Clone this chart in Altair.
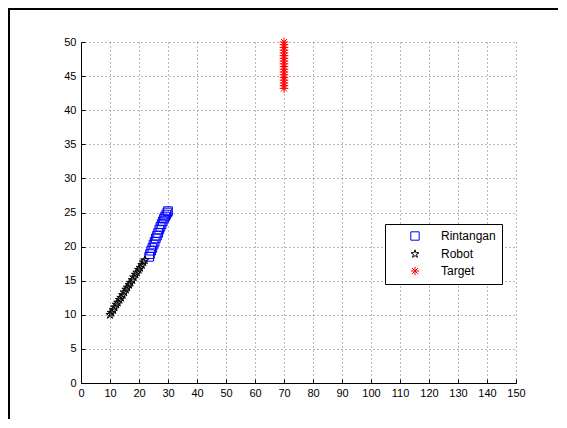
import altair as alt
import pandas as pd

robot_x = [10.0, 10.5, 11.1, 11.6, 12.2, 12.7, 13.3, 13.8, 14.4, 14.9, 15.5, 16.0,
           16.6, 17.1, 17.7, 18.2, 18.8, 19.3, 19.9, 20.4, 21.0, 21.5, 22.0]
robot_y = [10.0, 10.3, 10.7, 11.1, 11.5, 11.8, 12.2, 12.5, 12.9, 13.3, 13.7, 14.0,
           14.4, 14.7, 15.1, 15.5, 15.9, 16.2, 16.6, 16.9, 17.3, 17.7, 18.0]

obst_x = [23.5, 23.8, 24.2, 24.6, 25.0, 25.4, 25.8, 26.2, 26.6, 27.0, 27.4, 27.8,
          28.2, 28.6, 29.0, 29.4, 29.8, 30.0]
obst_y = [18.5, 18.9, 19.4, 19.8, 20.3, 20.7, 21.2, 21.6, 22.0, 22.5, 22.9, 23.3,
          23.7, 24.1, 24.4, 24.7, 25.0, 25.2]

target_x = [70, 70, 70, 70, 70, 70, 70, 70, 70, 70, 70, 70, 70, 70, 70, 70, 70, 70]
target_y = [43.2, 43.6, 44.0, 44.4, 44.8, 45.2, 45.6, 46.0, 46.4, 46.8, 47.2, 47.6,
            48.0, 48.4, 48.8, 49.2, 49.6, 50.0]

series = ["Rintangan", "Robot", "Target"]
x_ticks = [0, 10, 20, 30, 40, 50, 60, 70, 80, 90, 100, 110, 120, 130, 140, 150]
y_ticks = [0, 5, 10, 15, 20, 25, 30, 35, 40, 45, 50]

rows = []
for x, y in zip(obst_x, obst_y):
    rows.append({"x": x, "y": y, "s": "Rintangan"})
for x, y in zip(robot_x, robot_y):
    rows.append({"x": x, "y": y, "s": "Robot"})
for x, y in zip(target_x, target_y):
    rows.append({"x": x, "y": y, "s": "Target"})
df = pd.DataFrame(rows)

W, H = 435, 341
PL, PT, PR, PB = 73, 34, 42, 36

star = ("M0,-1L0.225,-0.309L0.951,-0.309L0.363,0.118L0.588,0.809L0,0.382"
        "L-0.588,0.809L-0.363,0.118L-0.951,-0.309L-0.225,-0.309Z")
aster = "M-1,0L1,0M0,-1L0,1M-0.7,-0.7L0.7,0.7M-0.7,0.7L0.7,-0.7"

xs = alt.Scale(domain=[0, 150], nice=False, zero=False)
ys = alt.Scale(domain=[0, 50], nice=False, zero=False)

points = alt.Chart(df).mark_point(filled=False, strokeWidth=1, size=75, opacity=1).encode(
    x=alt.X("x:Q", scale=xs, title=None,
            axis=alt.Axis(values=x_ticks, grid=True, ticks=False, domain=True,
                          labelPadding=4, labelOverlap=False, labelFlush=False)),
    y=alt.Y("y:Q", scale=ys, title=None,
            axis=alt.Axis(values=y_ticks, grid=True, ticks=False, domain=True,
                          labelPadding=5, labelOverlap=False, labelFlush=False)),
    color=alt.Color("s:N", scale=alt.Scale(domain=series, range=["#0000ff", "#000000", "#ff0000"]),
                    legend=alt.Legend(title=None, orient="none", legendX=304, legendY=182,
                                      fillColor="white", strokeColor="black",
                                      padding=6, rowPadding=4, symbolOffset=18,
                                      labelOffset=20,
                                      symbolSize=70, symbolStrokeWidth=1,
                                      labelFontSize=12, labelFont="Liberation Sans",
                                      labelColor="black", labelLimit=200)),
    shape=alt.Shape("s:N", scale=alt.Scale(domain=series, range=["square", star, aster])),
)

ticks = alt.Chart(df).mark_point(opacity=0).encode(
    x=alt.X("x:Q", scale=xs, title=None,
            axis=alt.Axis(orient="top", offset=-H, values=x_ticks, labels=False, domain=False,
                          grid=False, ticks=True, tickSize=4, tickColor="black")),
    y=alt.Y("y:Q", scale=ys, title=None,
            axis=alt.Axis(orient="right", offset=-W, values=y_ticks, labels=False, domain=False,
                          grid=False, ticks=True, tickSize=4, tickColor="black")),
)

frame_top = alt.Chart(df).mark_rule(color="black", strokeWidth=2).encode(
    x=alt.value(-PL), x2=alt.value(W + PR), y=alt.value(-PT + 1)
)
frame_left = alt.Chart(df).mark_rule(color="black", strokeWidth=2).encode(
    x=alt.value(-PL + 1), y=alt.value(-PT), y2=alt.value(H + PB)
)

chart = alt.layer(frame_top, frame_left, points, ticks).resolve_axis(
    x="independent", y="independent"
).properties(
    width=W, height=H,
    autosize=alt.AutoSizeParams(type="none"),
    padding={"left": PL, "top": PT, "right": PR, "bottom": PB},
    background="white",
).configure_view(stroke=None).configure_axis(
    labelFont="Liberation Sans", labelFontSize=11, labelColor="black",
    domainColor="black", domainWidth=1,
    gridColor="#000000", gridOpacity=0.55, gridDash=[1, 3], gridWidth=1,
)

chart.save("out.html", embed_options={"renderer": "svg", "actions": False})
